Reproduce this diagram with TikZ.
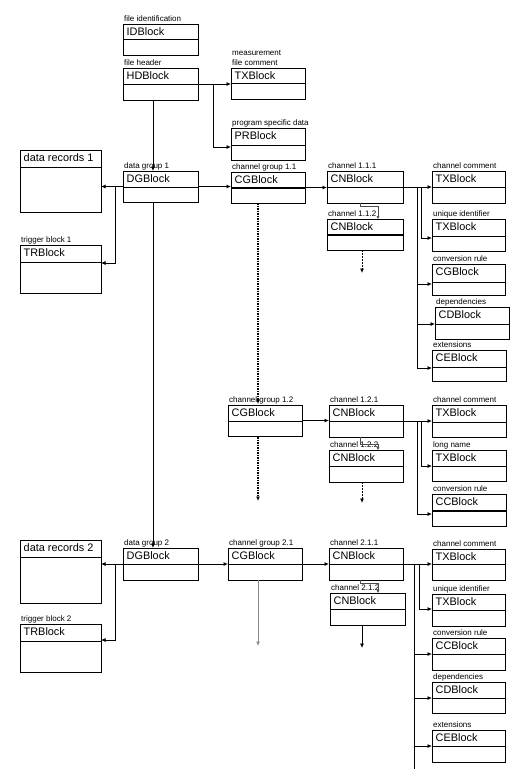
\documentclass[tikz,border=0pt]{standalone}
\usepackage{fontspec}
\setmainfont{Liberation Sans}
\usetikzlibrary{arrows.meta}
\tikzset{
 box/.style={draw, line width=0.9pt, inner sep=0pt, outer sep=0pt, anchor=north west},
 bname/.style={font=\fontsize{10.9}{12}\selectfont, inner sep=0pt, anchor=base west},
 lab/.style={font=\fontsize{8}{9}\selectfont, inner sep=0pt, anchor=base west},
 conn/.style={line width=0.8pt},
 arr/.style={conn, -{Latex[length=4.5pt,width=4pt]}},
 dots/.style={line width=1.5pt, dash pattern=on 1.5pt off 1pt, -{Latex[length=4.5pt,width=4pt]}},
 dsh/.style={line width=0.8pt, dash pattern=on 2pt off 1pt, -{Latex[length=4.5pt,width=4pt]}},
 thin/.style={line width=0.5pt, black!70, -{Latex[length=3pt,width=3pt]}},
 thk/.style={line width=1.8pt},
}
% name, x, y, w, h, divider offset, text, label
\newcommand\blk[8]{%
 \node[box, minimum width=#4pt, minimum height=#5pt] (#1) at (#2,#3) {};
 \draw[line width=0.9pt] (#2,#3+#6) -- (#2+#4,#3+#6);
 \node[bname] (#1t) at (#2+3.5,#3+11.5) {#7};
 \node[lab] (#1l) at (#2+1,#3-3) {#8};
}
\begin{document}
\begin{tikzpicture}[x=1pt,y=-1pt]
\useasboundingbox[fill=white] (0,0) rectangle (516,769);

% top
\blk{id}{123}{24}{75}{31}{15}{IDBlock}{file identification}
\blk{hd}{123}{68}{75}{32}{16}{HDBlock}{file header}
\blk{txo}{231}{68}{74}{31}{15}{TXBlock}{file comment}
\node[lab] (txol) at (232,55) {measurement};
\blk{pr}{231}{128}{74}{32}{17}{PRBlock}{program specific data}

% data group 1
\blk{drA}{20}{150}{81}{62}{17}{data records 1}{}
\blk{dgA}{123}{171}{75}{31}{16}{DGBlock}{data group 1}
\blk{trA}{20}{245}{81}{48}{17}{TRBlock}{trigger block 1}
\blk{cgA}{231}{172}{74}{31}{16}{CGBlock}{channel group 1.1}
\draw[thk] (231,188) -- (305,188);
\blk{cnA}{327}{171}{76}{32}{16}{CNBlock}{channel 1.1.1}
\blk{cnB}{327}{219}{76}{31}{16}{CNBlock}{channel 1.1.2}
\draw[thk] (327,235) -- (403,235);
\blk{txA}{432}{171}{73}{32}{16}{TXBlock}{channel comment}
\blk{txB}{432}{219}{73}{32}{17}{TXBlock}{unique identifier}
\blk{cgR}{432}{264}{73}{31}{18}{CGBlock}{conversion rule}
\blk{cdA}{435}{307}{74}{32}{17}{CDBlock}{dependencies}
\blk{ceA}{432}{350}{74}{31}{17}{CEBlock}{extensions}

% channel group 1.2
\blk{cgB}{228}{405}{74}{31}{16}{CGBlock}{channel group 1.2}
\blk{cnC}{329}{405}{74}{32}{16}{CNBlock}{channel 1.2.1}
\blk{cnD}{329}{450}{74}{32}{16}{CNBlock}{channel 1.2.2}
\blk{txC}{432}{405}{74}{32}{17}{TXBlock}{channel comment}
\blk{txD}{432}{450}{74}{31}{16}{TXBlock}{long name}
\blk{ccC}{432}{494}{74}{32}{17}{CCBlock}{conversion rule}
\draw[thk] (432,511) -- (506,511);

% data group 2
\blk{drB}{20}{540}{81}{63}{17}{data records 2}{}
\blk{dgB}{123}{548}{75}{32}{16}{DGBlock}{data group 2}
\blk{trB}{20}{624}{81}{48}{17}{TRBlock}{trigger block 2}
\blk{cgC}{228}{548}{74}{32}{16}{CGBlock}{channel group 2.1}
\blk{cnE}{329}{548}{74}{32}{16}{CNBlock}{channel 2.1.1}
\blk{cnF}{330}{593}{75}{32}{16}{CNBlock}{channel 2.1.2}
\blk{txE}{432}{549}{73}{31}{15}{TXBlock}{channel comment}
\blk{txF}{432}{594}{73}{32}{16}{TXBlock}{unique identifier}
\blk{ccE}{432}{638}{73}{32}{16}{CCBlock}{conversion rule}
\blk{cdE}{432}{682}{73}{31}{16}{CDBlock}{dependencies}
\blk{ceE}{432}{730}{73}{32}{16}{CEBlock}{extensions}

% ---- connectors ----
\coordinate (hj) at (213,84);
\coordinate (hk) at (213,147);
\draw[conn] (hd.east) -- (hj);
\draw[arr] (hj) -- (txo.west |- hj);
\draw[arr] (hj) -- (hk) -- (pr.west |- hk);
\draw[arr] ([xshift=-7.5pt]hd.south) -- ([xshift=-7.5pt]dgA.north);
\draw[arr] ([xshift=-7.5pt]dgA.south) -- ([xshift=-7.5pt]dgB.north);

% DG1
\coordinate (gA) at (115,186.5);
\coordinate (gB) at (115,263);
\draw[arr] (dgA.west) -- (drA.east |- dgA.west);
\draw[arr] (gA) -- (gB) -- (trA.east |- gB);
\draw[arr] (dgA.east) -- (cgA.west |- dgA.east);
\draw[arr] (cgA.east) -- (cnA.west |- cgA.east);
\coordinate (dA) at (258,203);
\coordinate (dB) at (258,404);
\draw[dots] (dA) -- (dB);
% CN 1.1.1 small link
\coordinate (sA) at (360,203);
\coordinate (sB) at (360,206);
\coordinate (sC) at (378,206);
\coordinate (sD) at (378,219);
\draw[thin] (sA) -- (sB) -- (sC) -- (sD);
\coordinate (eA) at (362,250);
\coordinate (eB) at (362,273);
\draw[dsh] (eA) -- (eB);
% CN 1.1.1 branches
\coordinate (bA) at (417,187);
\coordinate (bB) at (421,187);
\coordinate (bC) at (421,238);
\coordinate (bD) at (417,284);
\coordinate (bE) at (417,324);
\coordinate (bF) at (417,368);
\draw[arr] (cnA.east) -- (txA.west |- cnA.east);
\draw[arr] (bB) -- (bC) -- (txB.west |- bC);
\draw[conn] (bA) -- (bF);
\draw[arr] (bD) -- (cgR.west |- bD);
\draw[arr] (bE) -- (cdA.west |- bE);
\draw[arr] (bF) -- (ceA.west |- bF);

% CG 1.2
\draw[arr] (cgB.east) -- (cnC.west |- cgB.east);
\coordinate (dC) at (258,437);
\coordinate (dD) at (258,501);
\draw[dots] (dC) -- (dD);
\coordinate (sE) at (360,437);
\coordinate (sF) at (360,444);
\coordinate (sG) at (378,444);
\coordinate (sH) at (378,450);
\draw[thin] (sE) -- (sF) -- (sG) -- (sH);
\coordinate (eC) at (362,482);
\coordinate (eD) at (362,503);
\draw[dsh] (eC) -- (eD);
\coordinate (bG) at (417,421);
\coordinate (bH) at (421,421);
\coordinate (bI) at (421,466);
\coordinate (bJ) at (417,514);
\draw[arr] (cnC.east) -- (txC.west |- cnC.east);
\draw[arr] (bH) -- (bI) -- (txD.west |- bI);
\draw[arr] (bG) -- (bJ) -- (ccC.west |- bJ);

% DG2
\coordinate (gC) at (115,564);
\coordinate (gD) at (115,640);
\draw[arr] (dgB.west) -- (drB.east |- dgB.west);
\draw[arr] (gC) -- (gD) -- (trB.east |- gD);
\draw[arr] (dgB.east) -- (cgC.west |- dgB.east);
\draw[arr] (cgC.east) -- (cnE.west |- cgC.east);
\coordinate (dE) at (258,580);
\coordinate (dF) at (258,646);
\draw[arr, black!45, line width=1pt] (dE) -- (dF);
\coordinate (sI) at (360,580);
\coordinate (sJ) at (360,583);
\coordinate (sK) at (378,583);
\coordinate (sL) at (378,593);
\draw[thin] (sI) -- (sJ) -- (sK) -- (sL);
\coordinate (eE) at (362,625);
\coordinate (eF) at (362,648);
\draw[arr] (eE) -- (eF);
\coordinate (bK) at (414,564);
\coordinate (bL) at (419,564);
\coordinate (bM) at (419,609);
\coordinate (bN) at (414,654);
\coordinate (bO) at (414,698);
\coordinate (bP) at (414,746);
\coordinate (bQ) at (414,769);
\draw[arr] (cnE.east) -- (txE.west |- cnE.east);
\draw[arr] (bL) -- (bM) -- (txF.west |- bM);
\draw[conn] (bK) -- (bQ);
\draw[arr] (bN) -- (ccE.west |- bN);
\draw[arr] (bO) -- (cdE.west |- bO);
\draw[arr] (bP) -- (ceE.west |- bP);
\end{tikzpicture}
\end{document}
